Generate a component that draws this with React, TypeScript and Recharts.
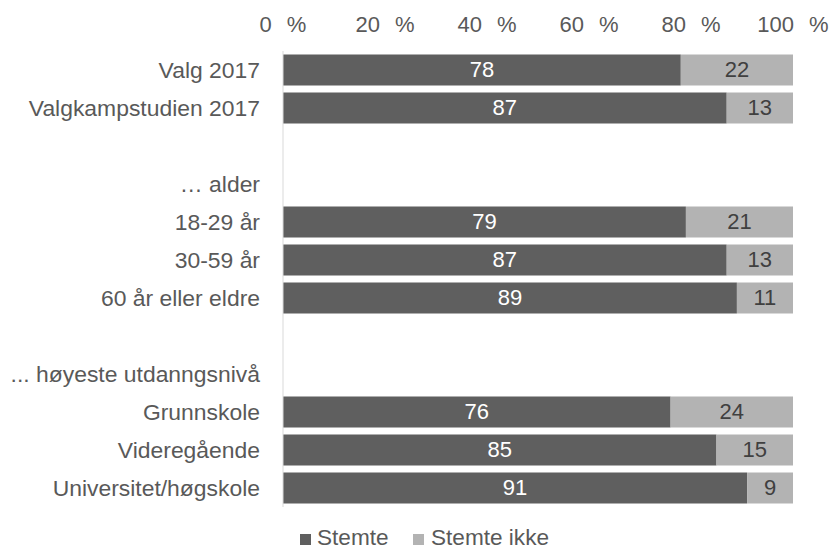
import React from "react";
import { BarChart, Bar, XAxis, YAxis, LabelList } from "recharts";

const categories = [
  "Valg 2017",
  "Valgkampstudien 2017",
  "",
  "… alder",
  "18-29 år",
  "30-59 år",
  "60 år eller eldre",
  " ",
  "... høyeste utdanngsnivå",
  "Grunnskole",
  "Videregående",
  "Universitet/høgskole",
];
const stemte: (number | null)[] = [78, 87, null, null, 79, 87, 89, null, null, 76, 85, 91];
const stemteIkke: (number | null)[] = [22, 13, null, null, 21, 13, 11, null, null, 24, 15, 9];
const xTicks = [0, 20, 40, 60, 80, 100];
const seriesNames = ["Stemte", "Stemte ikke"];

const data = categories.map((name, i) => ({
  name,
  stemte: stemte[i],
  stemteIkke: stemteIkke[i],
}));

const FONT = "Liberation Sans, Arial, sans-serif";
const DARK = "#5f5f5f";
const LIGHT = "#b3b3b3";
const TEXT = "#595959";
const FS = 22;

const makeLabel = (color: string) => (props: any) => {
  const { x, y, width, height, value } = props;
  if (value === null || value === undefined) return null;
  return (
    <text
      x={Number(x) + Number(width) / 2}
      y={Number(y) + Number(height) / 2}
      textAnchor="middle"
      dominantBaseline="central"
      fill={color}
      fontSize={FS}
      fontFamily={FONT}
    >
      {value}
    </text>
  );
};

const XTick = (props: any) => {
  const { x, payload } = props;
  return (
    <text x={x} y={32} textAnchor="middle" fill={TEXT} fontSize={FS} fontFamily={FONT}>
      <tspan>{payload.value}</tspan>
      <tspan dx={15}>%</tspan>
    </text>
  );
};

const LegendOverlay = () => (
  <svg
    width={831}
    height={550}
    style={{ position: "absolute", left: 0, top: 0, pointerEvents: "none" }}
  >
    <rect x={300} y={534} width={11} height={11} fill={DARK} />
    <text x={317} y={545} fill={TEXT} fontSize={22.6} fontFamily={FONT}>
      {seriesNames[0]}
    </text>
    <rect x={413} y={534} width={11} height={11} fill={LIGHT} />
    <text x={431} y={545} fill={TEXT} fontSize={22.6} fontFamily={FONT}>
      {seriesNames[1]}
    </text>
  </svg>
);

export default function App() {
  return (
    <div style={{ position: "absolute", left: 0, top: 0, width: 831, height: 550, background: "#fff" }}>
      <BarChart
        width={831}
        height={550}
        data={data}
        layout="vertical"
        margin={{ top: 0, right: 38, bottom: 43, left: 0 }}
        barCategoryGap="9%"
      >
        <XAxis
          type="number"
          orientation="top"
          domain={[0, 100]}
          ticks={xTicks}
          axisLine={false}
          tickLine={false}
          height={51}
          tick={<XTick />}
          interval={0}
        />
        <YAxis
          type="category"
          dataKey="name"
          width={283}
          axisLine={{ stroke: "#d9d9d9" }}
          tickLine={false}
          interval={0}
          tick={{ fill: TEXT, fontSize: 22.9, fontFamily: FONT, dx: -15 }}
        />
        <Bar dataKey="stemte" stackId="a" fill={DARK} isAnimationActive={false}>
          <LabelList dataKey="stemte" content={makeLabel("#ffffff")} />
        </Bar>
        <Bar dataKey="stemteIkke" stackId="a" fill={LIGHT} isAnimationActive={false}>
          <LabelList dataKey="stemteIkke" content={makeLabel("#404040")} />
        </Bar>
      </BarChart>
      <LegendOverlay />
    </div>
  );
}
